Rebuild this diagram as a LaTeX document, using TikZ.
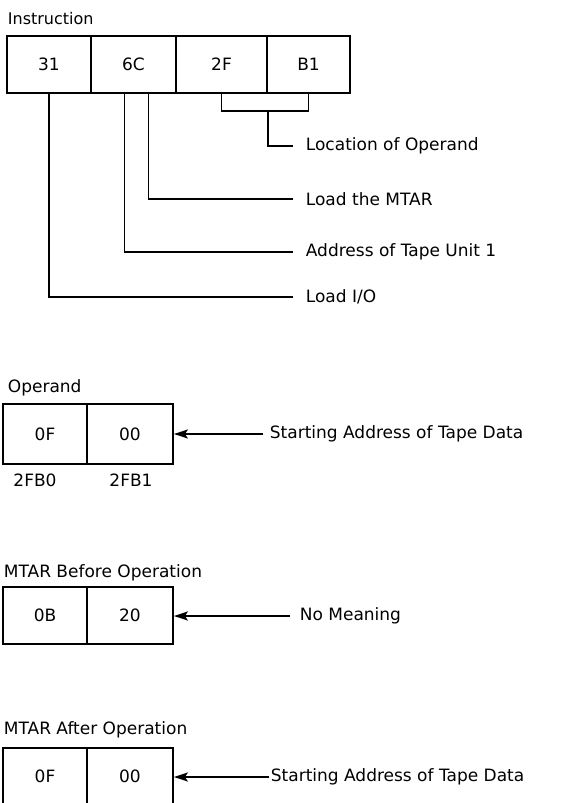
\documentclass[tikz,border=0pt]{standalone}
\usepackage{fontspec}
\setmainfont{DejaVu Sans}
\usetikzlibrary{arrows.meta,positioning,calc}

\begin{document}
\begin{tikzpicture}[x=1pt,y=-1pt,line width=1.8pt,
  txt/.style={font=\fontsize{17}{20}\selectfont},
  cell/.style={draw, txt, inner sep=0pt, minimum height=57pt},
  title/.style={txt, anchor=west, inner sep=0pt},
  lbl/.style={txt, anchor=west, inner ysep=0pt},
  arr/.style={-{Stealth[length=14pt,width=9pt,inset=3pt]}}]
  \useasboundingbox (0,0) rectangle (574,803);

  % instruction word
  \node[title, font=\fontsize{16}{19}\selectfont] (tins) at (7,19) {Instruction};
  \node[cell, minimum width=84pt] (c31) at (49,64.5) {31};
  \node[cell, minimum width=85pt] (c6C) at (133.5,64.5) {6C};
  \node[cell, minimum width=91pt] (c2F) at (221.5,64.5) {2F};
  \node[cell, minimum width=83pt] (cB1) at (308.5,64.5) {B1};

  \node[lbl, inner xsep=12pt] (loc)  at (293,146) {Location of Operand};
  \node[lbl, inner xsep=12pt] (mtar) at (293,199) {Load the MTAR};
  \node[lbl, inner xsep=12pt] (addr) at (293,252) {Address of Tape Unit 1};
  \node[lbl, inner xsep=12pt] (lio)  at (293,297) {Load I/O};

  \coordinate (brk) at ($(c2F.south east)+(0,17)$);
  \draw (c2F.south) -- ++(0,17) -| (cB1.south);
  \draw (brk) |- (loc.west);
  \draw ([xshift=15pt]c6C.south) |- (mtar.west);
  \draw ([xshift=-9pt]c6C.south) |- (addr.west);
  \draw (c31.south) |- (lio.west);

  % operand
  \node[title] (top) at (7,388) {Operand};
  \node[cell, minimum width=84pt, minimum height=60pt] (o0F) at (45,434) {0F};
  \node[cell, minimum width=86pt, minimum height=60pt] (o00) at (130,434) {00};
  \node[txt] (a0) at (35,480) {2FB0};
  \node[txt] (a1) at (131,480) {2FB1};
  \node[lbl, inner xsep=6pt] (sa1) at (263,434) {Starting Address of Tape Data};
  \draw[arr] (sa1.west) -- (sa1.west -| o00.east);

  % MTAR before
  \node[title] (tbef) at (3,573) {MTAR Before Operation};
  \node[cell, minimum width=84pt] (b0B) at (45,615.5) {0B};
  \node[cell, minimum width=86pt] (b20) at (130,615.5) {20};
  \node[lbl, inner xsep=9pt] (nom) at (290,616) {No Meaning};
  \draw[arr] (nom.west) -- (nom.west -| b20.east);

  % MTAR after
  \node[title] (taft) at (3,730) {MTAR After Operation};
  \node[cell, minimum width=84pt] (f0F) at (45,776.5) {0F};
  \node[cell, minimum width=86pt] (f00) at (130,776.5) {00};
  \node[lbl, inner xsep=1pt] (sa2) at (269,777) {Starting Address of Tape Data};
  \draw[arr] (sa2.west) -- (sa2.west -| f00.east);
\end{tikzpicture}
\end{document}
